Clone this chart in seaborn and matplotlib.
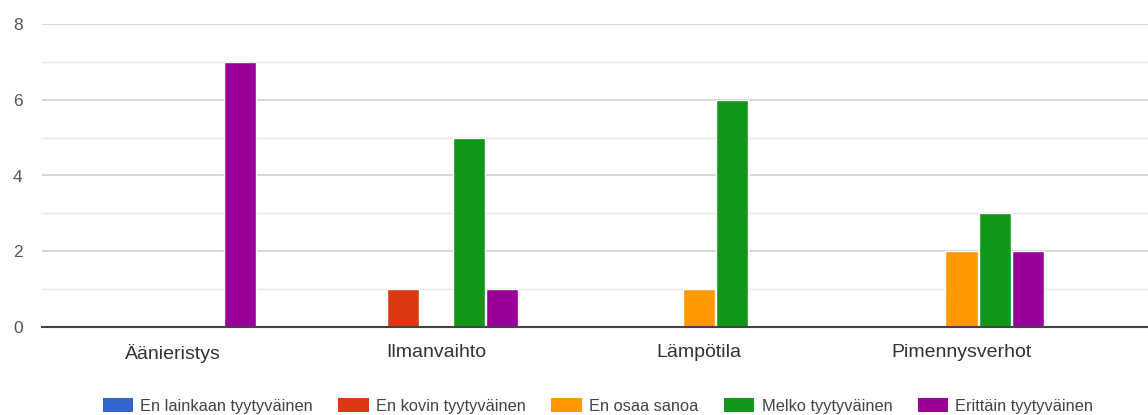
import matplotlib
matplotlib.use("Agg")
import matplotlib.pyplot as plt
import seaborn as sns
import pandas as pd
from matplotlib.patches import Patch
from matplotlib.ticker import MultipleLocator

categories = ["Äänieristys", "Ilmanvaihto", "Lämpötila", "Pimennysverhot"]
series = ["En lainkaan tyytyväinen", "En kovin tyytyväinen", "En osaa sanoa",
          "Melko tyytyväinen", "Erittäin tyytyväinen"]
en_lainkaan = [0, 0, 0, 0]
en_kovin = [0, 1, 0, 0]
en_osaa = [0, 0, 1, 2]
melko = [0, 5, 6, 3]
erittain = [7, 1, 0, 2]
colors = ["#3366CC", "#DC3912", "#FF9900", "#109618", "#990099"]

values = [en_lainkaan, en_kovin, en_osaa, melko, erittain]
rows = []
for s, vals in zip(series, values):
    for c, v in zip(categories, vals):
        rows.append({"kategoria": c, "vastaus": s, "määrä": v})
df = pd.DataFrame(rows)

sns.set_style("white")
plt.rcParams["font.family"] = ["Liberation Sans", "DejaVu Sans"]

fig = plt.figure(figsize=(11.48, 4.15), dpi=100)
ax = fig.add_axes([42 / 1148, 1 - 327 / 415, 1 - 42 / 1148, (327 - 24) / 415])

sns.barplot(data=df, x="kategoria", y="määrä", hue="vastaus", order=categories,
            hue_order=series, palette=colors, width=0.63, gap=0.03,
            saturation=1, legend=False, ax=ax)

ax.set_ylim(0, 8)
ax.set_xlim(-0.5, 3.71)
ax.yaxis.set_major_locator(MultipleLocator(2))
ax.yaxis.set_minor_locator(MultipleLocator(1))
ax.grid(axis="y", which="major", color="#d0d0d0", linewidth=1.2)
ax.grid(axis="y", which="minor", color="#e8e8e8", linewidth=1.0)
ax.set_axisbelow(True)
for sp in ["top", "right", "left"]:
    ax.spines[sp].set_visible(False)
ax.spines["bottom"].set_color("#444444")
ax.spines["bottom"].set_linewidth(1.5)
ax.tick_params(axis="y", length=0, pad=14, labelsize=12.5, labelcolor="#555555")
ax.tick_params(axis="x", length=0, pad=12, labelsize=14, labelcolor="#333333")
ax.set_xlabel("")
ax.set_ylabel("")

handles = [Patch(facecolor=c, edgecolor="none") for c in colors]
fig.legend(handles, series, loc="center", bbox_to_anchor=(598 / 1148, 1 - 406 / 415),
           ncol=5, frameon=False, fontsize=11.8, handlelength=1.85, handleheight=0.9,
           handletextpad=0.45, columnspacing=1.55, labelcolor="#444444")

fig.savefig("out.png", dpi=100)
